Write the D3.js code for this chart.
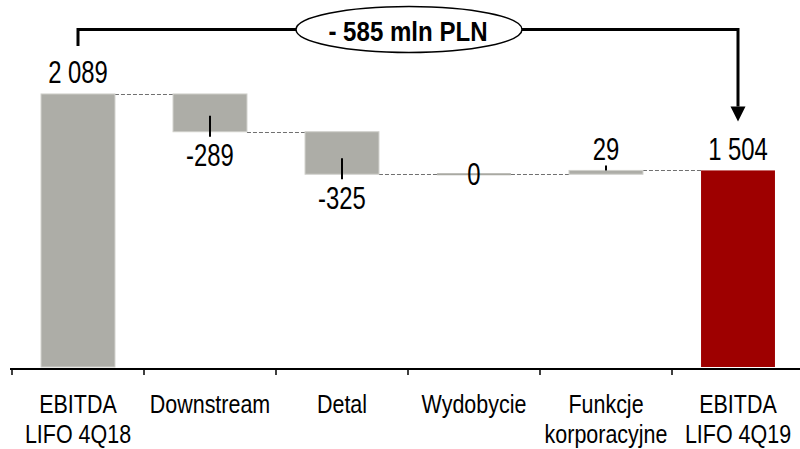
<!DOCTYPE html>
<html><head><meta charset="utf-8">
<script src="https://cdn.jsdelivr.net/npm/d3@7/dist/d3.min.js"></script>
<style>html,body{margin:0;padding:0;background:#fff;}svg{display:block;}</style>
</head><body>
<svg id="chart" width="800" height="449"></svg>
<script>
// ---- data ----
const categories = ["EBITDA LIFO 4Q18","Downstream","Detal","Wydobycie","Funkcje korporacyjne","EBITDA LIFO 4Q19"];
const categoryLines = [["EBITDA","LIFO 4Q18"],["Downstream"],["Detal"],["Wydobycie"],["Funkcje","korporacyjne"],["EBITDA","LIFO 4Q19"]];
const values = [2089, -289, -325, 0, 29, 1504];
const barTypes = ["total","delta","delta","delta","delta","total"];
const changeLabel = "- 585 mln PLN";

// ---- setup ----
const svg = d3.select("#chart");

// font detection (narrow font)
function measure(fam){
  const t = svg.append("text").style("font-family", fam).style("font-size","100px").text("EBITDA Downstream");
  const w = t.node().getComputedTextLength(); t.remove(); return w;
}
const wNarrow = measure('"Liberation Sans Narrow"');
const wReg = measure('"Liberation Sans"');
let FAM, BASE;
if (wNarrow / wReg < 0.9) { FAM = '"Liberation Sans Narrow", "Arial Narrow", sans-serif'; BASE = 0.82; }
else { FAM = '"Liberation Sans", Arial, sans-serif'; BASE = 1; }
// desired horizontal scale relative to regular Arial metrics
function sxFor(r){ return r / BASE; }

const loc = d3.formatLocale({decimal:",", thousands:" ", grouping:[3], currency:["",""], minus:"-"});
const fmt = loc.format(",d");

// cumulative
let run = 0;
const bars = values.map((v,i) => {
  let y0, y1;
  if (barTypes[i] === "total") { y0 = 0; y1 = v; run = v; }
  else { y0 = run; y1 = run + v; run = y1; }
  return {cat: categories[i], lines: categoryLines[i], v, type: barTypes[i], y0, y1, lo: Math.min(y0,y1), hi: Math.max(y0,y1), last: i === values.length-1};
});

const x = d3.scaleBand().domain(categories).range([12, 804]).padding(0);
const y = d3.scaleLinear().domain([0, 2500]).range([367, 367 - 2500*0.1307]);
const bw = x.bandwidth()*0.56, bo = x.bandwidth()*0.22;

function txt(g, xx, yy, s, size, opts){
  opts = opts || {};
  const sx = sxFor(opts.r || 0.8);
  const t = g.append("text")
    .attr("transform", `translate(${xx},${yy}) scale(${sx},1)`)
    .attr("text-anchor", "middle")
    .style("font-family", FAM).style("font-size", size+"px")
    .style("font-weight", opts.weight || "normal")
    .attr("fill", "#000");
  if (Array.isArray(s)) {
    s.forEach((line,k)=> t.append("tspan").attr("x",0).attr("y", k*opts.lh).text(line));
  } else t.text(s);
  return t;
}

// connectors
const gConn = svg.append("g");
bars.forEach((b,i)=>{
  if (i === bars.length-1) return;
  const nx = bars[i+1];
  const ly = Math.round(y(b.y1)) + 0.5;
  gConn.append("line")
    .attr("x1", x(b.cat)+bo+bw).attr("x2", x(nx.cat)+bo)
    .attr("y1", ly).attr("y2", ly)
    .attr("stroke","#707070").attr("stroke-width",1).attr("stroke-dasharray","4,2");
});

// bars
const gBars = svg.append("g");
bars.forEach(b=>{
  if (b.v === 0) {
    gBars.append("line").attr("x1", x(b.cat)+bo).attr("x2", x(b.cat)+bo+bw)
      .attr("y1", y(b.y1)).attr("y2", y(b.y1)).attr("stroke","#a9a9a2").attr("stroke-width",2);
    return;
  }
  gBars.append("rect")
    .attr("x", x(b.cat)+bo).attr("width", bw)
    .attr("y", y(b.hi)).attr("height", Math.max(2, y(b.lo)-y(b.hi)))
    .attr("fill", b.last ? "#9e0000" : "#adada7")
    .attr("stroke", b.last ? "none" : "#cfcfca").attr("stroke-width", 1);
});

// axis
const gAx = svg.append("g");
gAx.append("line").attr("x1",10).attr("x2",800).attr("y1",369).attr("y2",369).attr("stroke","#000").attr("stroke-width",2);
categories.forEach(c=>{
  gAx.append("line").attr("x1",x(c)).attr("x2",x(c)).attr("y1",368).attr("y2",375).attr("stroke","#000").attr("stroke-width",1.5);
});
bars.forEach(b=>{
  txt(gAx, x(b.cat)+x.bandwidth()/2, 412.5, b.lines, 26.5, {lh:30.5, r:0.81});
});

// value labels
const gLab = svg.append("g");
const VS = 31, VR = 0.77;
bars.forEach(b=>{
  const cx = x(b.cat)+x.bandwidth()/2;
  if (b.type === "total" || b.v > 0) {
    if (b.type !== "total") {
      gLab.append("line").attr("x1",cx).attr("x2",cx).attr("y1",y(b.hi)).attr("y2",y(b.hi)-5).attr("stroke","#000").attr("stroke-width",2);
    }
    txt(gLab, cx, y(b.hi)-10.5, fmt(b.v), VS, {r:VR});
  } else if (b.v < 0) {
    gLab.append("line").attr("x1",cx).attr("x2",cx).attr("y1",y(b.lo)-16).attr("y2",y(b.lo)+5).attr("stroke","#000").attr("stroke-width",2);
    txt(gLab, cx, y(b.lo)+34.5, fmt(b.v), VS, {r:VR});
  } else {
    txt(gLab, cx, y(b.y1)+11, fmt(b.v), VS, {r:VR});
  }
});

// change bracket
const first = bars[0], last = bars[bars.length-1];
const fx = x(first.cat)+x.bandwidth()/2, lx = x(last.cat)+x.bandwidth()/2;
const by = 29.5, ecx = 409, erx = 113, ery = 23;
const gBr = svg.append("g");
gBr.append("path")
  .attr("d", `M${fx},${y(first.y1)-48}V${by}H${lx}V${y(last.y1)-64}`)
  .attr("fill","none").attr("stroke","#000").attr("stroke-width",3);
gBr.append("path")
  .attr("d", `M${lx-7.5},${y(last.y1)-64}L${lx+7.5},${y(last.y1)-64}L${lx},${y(last.y1)-49}Z`)
  .attr("fill","#000");
gBr.append("ellipse").attr("cx",ecx).attr("cy",by).attr("rx",erx).attr("ry",ery)
  .attr("fill","#fff").attr("stroke","#000").attr("stroke-width",1.5);
txt(gBr, ecx-1, 40.5, changeLabel, 28, {weight:"bold", r:0.86});
</script>
</body></html>
